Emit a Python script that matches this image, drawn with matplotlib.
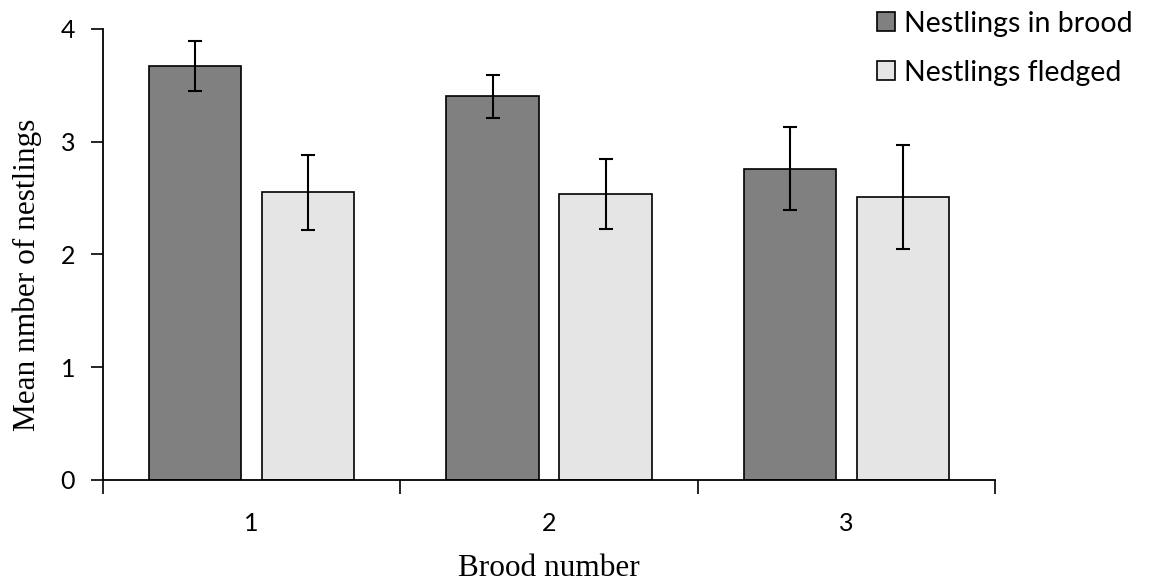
import numpy as np
import matplotlib.pyplot as plt

broods = ['1', '2', '3']
in_brood = [3.67, 3.40, 2.76]
in_brood_err = [0.22, 0.19, 0.37]
fledged = [2.55, 2.535, 2.505]
fledged_err = [0.33, 0.31, 0.46]

plt.rcParams['font.family'] = ['Lato', 'DejaVu Sans']
label_font = 'Liberation Serif'

fig = plt.figure(figsize=(11.51, 5.88), dpi=100)
ax = fig.add_axes([0.0895, 0.1837, 0.775, 0.7675])

x = np.arange(1, len(broods) + 1)
w = 0.31
ekw = dict(elinewidth=1.5, capthick=1.5, ecolor='black')
ax.bar(x - 0.19, in_brood, w, yerr=in_brood_err, capsize=5, color='#808080',
       edgecolor='black', linewidth=1.2, error_kw=ekw, label='Nestlings in brood')
ax.bar(x + 0.19, fledged, w, yerr=fledged_err, capsize=5, color='#e5e5e5',
       edgecolor='black', linewidth=1.2, error_kw=ekw, label='Nestlings fledged')

ax.set_xlim(0.5, 3.5)
ax.set_ylim(0, 4)
ax.set_yticks([0, 1, 2, 3, 4])
ax.set_yticklabels(['0', '1', '2', '3', '4'], fontsize=18)
ax.set_xticks([0.5, 1.5, 2.5, 3.5])
ax.set_xticklabels([])
ax.set_xticks(x, minor=True)
ax.set_xticklabels(broods, minor=True, fontsize=18)
ax.tick_params(axis='x', which='major', length=10, width=1.2, direction='out')
ax.tick_params(axis='x', which='minor', length=0, pad=23)
ax.tick_params(axis='y', length=9, width=1.2, direction='out', pad=11)

for s in ['top', 'right']:
    ax.spines[s].set_visible(False)
for s in ['left', 'bottom']:
    ax.spines[s].set_linewidth(1.3)

ax.set_ylabel('Mean nmber of nestlings', fontfamily=label_font, fontsize=22.5)
ax.yaxis.set_label_coords(-0.068, 0.455)
ax.set_xlabel('Brood number', fontfamily=label_font, fontsize=22.5, labelpad=14)

fig.legend(loc='upper right', bbox_to_anchor=(1.006, 1.025), frameon=False,
           handlelength=0.65, handleheight=0.65, handletextpad=0.3, labelspacing=0.8,
           prop={'size': 20.5})

fig.savefig('out.png', dpi=100)
